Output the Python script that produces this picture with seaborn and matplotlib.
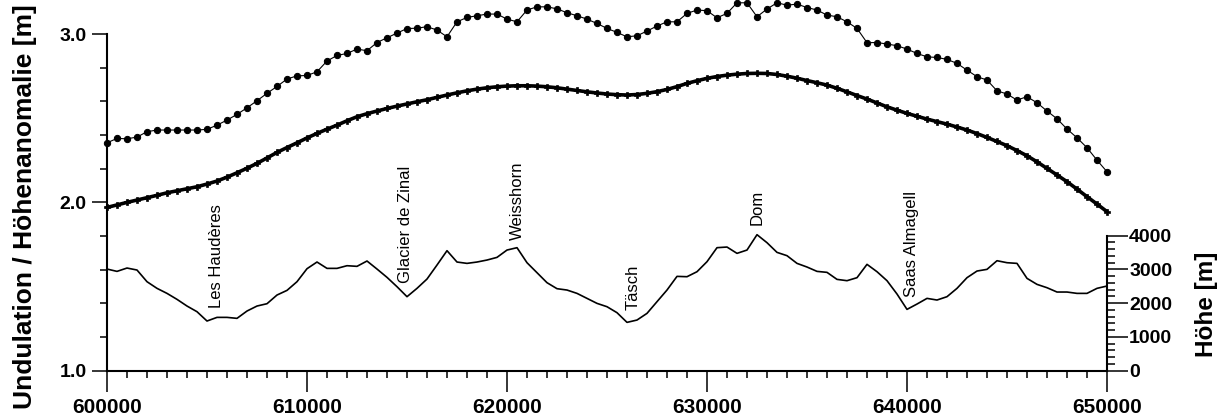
import numpy as np
import pandas as pd
import matplotlib
matplotlib.use('Agg')
import matplotlib.pyplot as plt
import seaborn as sns
from matplotlib.ticker import MultipleLocator, FixedLocator, FormatStrFormatter

# Profilpunkte alle 500 m (Y-Koordinate)
x_km = np.arange(600000, 650001, 500)

# Undulation [m] (obere Kurve, Punkte)
undulation = [
    2.354, 2.380, 2.378, 2.388, 2.420, 2.430, 2.430, 2.430, 2.430, 2.430,
    2.434, 2.459, 2.489, 2.523, 2.562, 2.604, 2.648, 2.689, 2.733, 2.752,
    2.754, 2.776, 2.840, 2.873, 2.885, 2.911, 2.901, 2.950, 2.978, 3.006,
    3.033, 3.035, 3.044, 3.024, 2.984, 3.073, 3.099, 3.109, 3.119, 3.119,
    3.089, 3.073, 3.143, 3.162, 3.162, 3.150, 3.127, 3.109, 3.089, 3.063,
    3.034, 3.010, 2.984, 2.990, 3.018, 3.048, 3.073, 3.073, 3.123, 3.143,
    3.139, 3.097, 3.123, 3.186, 3.186, 3.103, 3.149, 3.186, 3.172, 3.178,
    3.158, 3.143, 3.113, 3.103, 3.073, 3.034, 2.949, 2.950, 2.941, 2.931,
    2.911, 2.885, 2.865, 2.861, 2.850, 2.826, 2.786, 2.747, 2.727, 2.663,
    2.644, 2.608, 2.628, 2.592, 2.543, 2.497, 2.436, 2.384, 2.325, 2.251,
    2.182,
]

# Hoehenanomalie [m] (mittlere Kurve, glatt)
anomalie = [
    1.970, 1.985, 2.000, 2.014, 2.028, 2.042, 2.057, 2.069, 2.081, 2.093,
    2.109, 2.127, 2.150, 2.176, 2.203, 2.232, 2.264, 2.297, 2.326, 2.354,
    2.383, 2.410, 2.435, 2.459, 2.485, 2.509, 2.527, 2.543, 2.558, 2.572,
    2.585, 2.598, 2.610, 2.624, 2.638, 2.651, 2.663, 2.673, 2.681, 2.687,
    2.691, 2.693, 2.693, 2.691, 2.687, 2.681, 2.673, 2.665, 2.657, 2.650,
    2.644, 2.640, 2.638, 2.641, 2.648, 2.658, 2.671, 2.688, 2.707, 2.723,
    2.737, 2.748, 2.756, 2.762, 2.766, 2.767, 2.766, 2.760, 2.750, 2.738,
    2.724, 2.711, 2.697, 2.678, 2.657, 2.635, 2.614, 2.591, 2.568, 2.548,
    2.529, 2.512, 2.495, 2.480, 2.465, 2.448, 2.430, 2.409, 2.386, 2.362,
    2.337, 2.308, 2.277, 2.241, 2.202, 2.163, 2.123, 2.079, 2.034, 1.990,
    1.945,
]

# Topographie entlang des Profils [m]
hoehe = [
    3012, 2943, 3042, 2983, 2637, 2440, 2291, 2114, 1916, 1748,
    1472, 1580, 1580, 1551, 1768, 1916, 1985, 2242, 2380, 2637,
    3022, 3220, 3032, 3032, 3111, 3092, 3250, 3012, 2766, 2489,
    2193, 2440, 2716, 3131, 3556, 3220, 3180, 3220, 3279, 3358,
    3575, 3645, 3200, 2904, 2608, 2430, 2390, 2291, 2143, 1995,
    1896, 1719, 1432, 1501, 1699, 2045, 2390, 2795, 2785, 2933,
    3230, 3645, 3664, 3477, 3575, 4030, 3793, 3506, 3408, 3180,
    3072, 2943, 2914, 2706, 2667, 2756, 3151, 2933, 2667, 2272,
    1817, 1975, 2143, 2094, 2193, 2440, 2756, 2953, 3003, 3259,
    3200, 3180, 2736, 2558, 2459, 2331, 2331, 2291, 2291, 2440,
    2509,
]

# Ortsnamen
orte = ['Les Haudères', 'Glacier de Zinal', 'Weisshorn', 'Täsch', 'Dom', 'Saas Almagell']
orte_x = [605500, 614950, 620500, 626300, 632500, 640250]
orte_y = [1.373, 1.521, 1.777, 1.361, 1.866, 1.438]

df = pd.DataFrame({'x': x_km, 'undulation': undulation,
                   'anomalie': anomalie, 'hoehe': hoehe})

sns.set_theme(style='white')
plt.rcParams['font.family'] = ['Liberation Sans', 'DejaVu Sans']
plt.rcParams['text.color'] = 'black'
plt.rcParams['xtick.color'] = 'black'
plt.rcParams['ytick.color'] = 'black'

W, H = 1231, 417
fig = plt.figure(figsize=(W / 100, H / 100), dpi=100)
ax = fig.add_axes([107 / W, 46.3 / H, 1000 / W, 370.7 / H])
ax2 = ax.twinx()

sns.lineplot(data=df, x='x', y='undulation', ax=ax, color='black', lw=0.8,
             marker='o', markersize=4.5, mec='black', mfc='black', clip_on=False)
sns.lineplot(data=df, x='x', y='anomalie', ax=ax, color='black', lw=2.6,
             marker='P', markersize=4.5, mew=0.5, mec='black', mfc='black',
             clip_on=False)
sns.lineplot(data=df, x='x', y='hoehe', ax=ax2, color='black', lw=1.2)

for name, xo, yo in zip(orte, orte_x, orte_y):
    ax.text(xo, yo, name, rotation=90, ha='center', va='bottom', fontsize=12)

ax.set_xlim(600000, 650000)
ax.set_ylim(1.0, 3.2026)
ax2.set_ylim(0, 10984)
ax.set_xlabel('')
ax.set_ylabel('')
ax2.set_ylabel('')

for s in ['top', 'right']:
    ax.spines[s].set_visible(False)
for s in ['top', 'left', 'bottom']:
    ax2.spines[s].set_visible(False)
for sp in [ax.spines['left'], ax.spines['bottom'], ax2.spines['right']]:
    sp.set_color('black')
    sp.set_linewidth(1.5)
ax.spines['left'].set_bounds(1.0, 3.0)
ax2.spines['right'].set_bounds(0, 4000)

ax.xaxis.set_major_locator(MultipleLocator(10000))
ax.xaxis.set_minor_locator(MultipleLocator(1000))
ax.xaxis.set_major_formatter(FormatStrFormatter('%d'))
ax.yaxis.set_major_locator(FixedLocator([1.0, 2.0, 3.0]))
ax.yaxis.set_minor_locator(FixedLocator(np.arange(1.0, 3.01, 0.2)))
ax.yaxis.set_major_formatter(FormatStrFormatter('%.1f'))
ax2.yaxis.set_major_locator(FixedLocator(range(0, 4001, 1000)))
ax2.yaxis.set_minor_locator(FixedLocator(range(0, 4001, 200)))

ax.tick_params(axis='x', which='major', direction='out', length=15, width=1.1,
               pad=5, labelsize=15, bottom=True)
ax.tick_params(axis='x', which='minor', direction='out', length=5, width=1.1,
               bottom=True)
ax.tick_params(axis='y', which='major', direction='out', length=10.5, width=1.1,
               pad=4, labelsize=14, left=True)
ax.tick_params(axis='y', which='minor', direction='out', length=5, width=1.1,
               left=True)
ax2.tick_params(axis='y', which='major', direction='out', length=15, width=1.1,
                pad=1, labelsize=14, right=True)
ax2.tick_params(axis='y', which='minor', direction='out', length=5.5, width=1.1,
                right=True)

for t in ax.get_xticklabels() + ax.get_yticklabels() + ax2.get_yticklabels():
    t.set_fontweight('bold')

fig.text(25 / W, 1 - 207 / H, 'Undulation / Höhenanomalie [m]', rotation=90,
         ha='center', va='center', fontsize=19, fontweight='bold')
fig.text(1207 / W, 1 - 304.5 / H, 'Höhe [m]', rotation=90,
         ha='center', va='center', fontsize=17.5, fontweight='bold')

fig.savefig('out.png', dpi=100)
